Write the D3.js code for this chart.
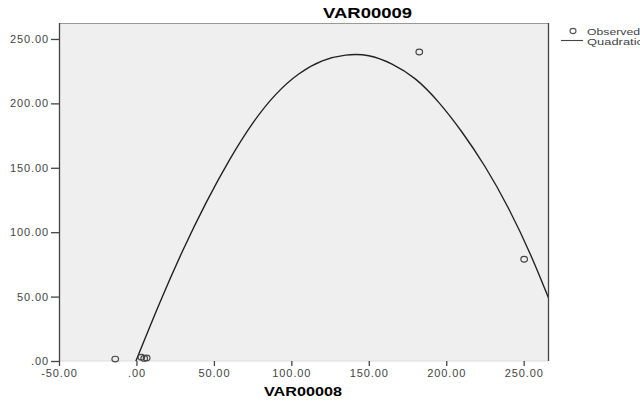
<!DOCTYPE html>
<html>
<head>
<meta charset="utf-8">
<script src="https://cdn.jsdelivr.net/npm/d3@7"></script>
<style>
  body { margin: 0; background: #fff; }
  text { font-family: "Liberation Sans", Arial, sans-serif; }
</style>
</head>
<body>
<div id="canvas"></div>
<script>
// observed values (VAR00008, VAR00009)
const obsX = [-13.7, 3.2, 5.0, 6.6, 182.6, 250.3];
const obsY = [1.5, 3.0, 2.0, 2.4, 239.9, 79.0];

// quadratic fit line
const fitX = [-1, 15, 30, 45, 60, 75, 90, 105, 120, 135, 150, 165, 180, 195, 210, 225, 240, 255, 267];
const fitY = [-2, 45, 86, 123, 156, 184.5, 207, 223, 233, 237.5, 237, 230.5, 219, 201, 178, 151, 119, 81, 46];

const xTicks = [-50, 0, 50, 100, 150, 200, 250];
const xTickLabels = ["-50.00", ".00", "50.00", "100.00", "150.00", "200.00", "250.00"];
const yTicks = [0, 50, 100, 150, 200, 250];
const yTickLabels = [".00", "50.00", "100.00", "150.00", "200.00", "250.00"];

const width = 640, height = 401;
const margin = {top: 23, left: 59, bottom: 40, right: 92};
const iwidth = width - margin.left - margin.right;
const iheight = height - margin.top - margin.bottom;

const svg = d3.select("#canvas").append("svg")
    .attr("width", width)
    .attr("height", height);

const g = svg.append("g").attr("transform", `translate(${margin.left},${margin.top})`);

const x = d3.scaleLinear().domain([-50, 265.7]).range([0, iwidth]);
const y = d3.scaleLinear().domain([0, 262.4]).range([iheight, 0]);

g.append("rect")
    .attr("width", iwidth).attr("height", iheight)
    .style("fill", "#efefef");

svg.append("clipPath").attr("id", "clip")
  .append("rect").attr("width", iwidth).attr("height", iheight);

// frame
g.append("line").attr("x1", 0).attr("x2", iwidth).attr("y1", 0.5).attr("y2", 0.5).style("stroke", "#999");
g.append("line").attr("x1", 0).attr("x2", iwidth).attr("y1", iheight).attr("y2", iheight).style("stroke", "#ddd");
g.append("line").attr("x1", iwidth + 0.5).attr("x2", iwidth + 0.5).attr("y1", 0).attr("y2", iheight).style("stroke", "#444").style("stroke-width", 1.3);

const xAxis = g.append("g")
    .attr("transform", `translate(0,${iheight})`)
    .call(d3.axisBottom(x).tickValues(xTicks).tickSize(5).tickPadding(3)
      .tickFormat((d, i) => xTickLabels[i]));
xAxis.select(".domain").remove();

const yAxis = g.append("g")
    .call(d3.axisLeft(y).tickValues(yTicks).tickSize(8).tickPadding(2)
      .tickFormat((d, i) => yTickLabels[i]));
yAxis.select(".domain").attr("d", `M0.5,0V${iheight}`).style("stroke", "#444").style("stroke-width", 1.3);

[xAxis, yAxis].forEach(a => {
  a.selectAll(".tick line").style("stroke", "#444").style("stroke-width", 1.3);
  a.selectAll(".tick text")
    .style("font-size", "11px")
    .style("letter-spacing", "0.9px")
    .style("fill", "#444");
});

const line = d3.line()
    .x((d, i) => x(fitX[i]))
    .y((d, i) => y(fitY[i]))
    .curve(d3.curveNatural);

g.append("path")
    .datum(fitX)
    .attr("clip-path", "url(#clip)")
    .attr("d", line)
    .style("fill", "none")
    .style("stroke", "#222")
    .style("stroke-width", 1.4);

g.selectAll("ellipse.obs").data(obsX).enter().append("ellipse")
    .attr("class", "obs")
    .attr("cx", d => x(d))
    .attr("cy", (d, i) => y(obsY[i]))
    .attr("rx", 3.3).attr("ry", 2.8)
    .style("fill", "none")
    .style("stroke", "#444")
    .style("stroke-width", 1.2);

// title and axis label
svg.append("text")
    .attr("x", 323).attr("y", 18)
    .attr("textLength", 89).attr("lengthAdjust", "spacingAndGlyphs")
    .style("font-weight", "bold").style("font-size", "14px")
    .text("VAR00009");

svg.append("text")
    .attr("x", 264).attr("y", 396)
    .attr("textLength", 78).attr("lengthAdjust", "spacingAndGlyphs")
    .style("font-weight", "bold").style("font-size", "13px")
    .text("VAR00008");

// legend
const leg = svg.append("g");
leg.append("ellipse").attr("cx", 573).attr("cy", 31).attr("rx", 3).attr("ry", 2.6)
    .style("fill", "none").style("stroke", "#555").style("stroke-width", 1.1);
leg.append("text").attr("x", 587).attr("y", 34.5)
    .attr("textLength", 53).attr("lengthAdjust", "spacingAndGlyphs")
    .style("font-size", "9px").style("fill", "#444")
    .text("Observed");
leg.append("line").attr("x1", 561).attr("x2", 583).attr("y1", 40.5).attr("y2", 40.5)
    .style("stroke", "#444").style("stroke-width", 1.1);
leg.append("text").attr("x", 587).attr("y", 44.5)
    .attr("textLength", 56).attr("lengthAdjust", "spacingAndGlyphs")
    .style("font-size", "9px").style("fill", "#444")
    .text("Quadratic");
</script>
</body>
</html>
